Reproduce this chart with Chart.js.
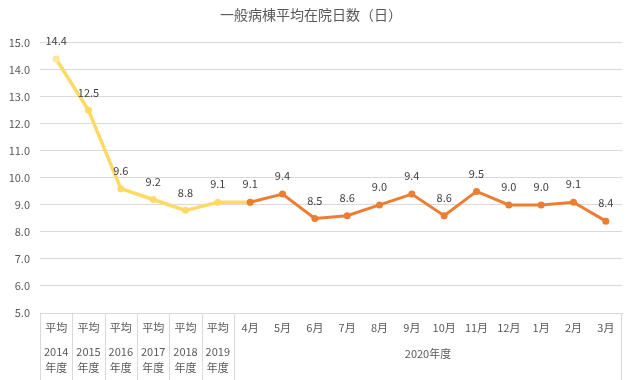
<!DOCTYPE html>
<html><head><meta charset="utf-8">
<script src="https://cdn.jsdelivr.net/npm/chart.js@4"></script>
<style>html,body{margin:0;padding:0;background:#fff}#wrap{width:634px;height:380px}</style>
</head><body><div id="wrap"><canvas id="c" width="634" height="380"></canvas></div>
<script>
const titleText = '一般病棟平均在院日数（日）';
const topLabels = ['平均','平均','平均','平均','平均','平均','4月','5月','6月','7月','8月','9月','10月','11月','12月','1月','2月','3月'];
const yearLabels = ['2014','2015','2016','2017','2018','2019'];
const groupLabel = '2020年度';
const yearSuffix = '年度';
const averageValues = [14.4,12.5,9.6,9.2,8.8,9.1,9.1,null,null,null,null,null,null,null,null,null,null,null];
const monthlyValues = [null,null,null,null,null,null,9.1,9.4,8.5,8.6,9.0,9.4,8.6,9.5,9.0,9.0,9.1,8.4];
const yTicks = [5,6,7,8,9,10,11,12,13,14,15];

const FONT = '"Noto Sans CJK JP","Noto Sans",sans-serif';
const TXT = '#595959';

const extras = {
  id:'extras',
  afterDatasetsDraw(chart){
    const ctx = chart.ctx, x = chart.scales.x, area = chart.chartArea;
    ctx.save();
    ctx.font = '11px ' + FONT;
    ctx.fillStyle = '#404040';
    ctx.textAlign = 'center';
    ctx.textBaseline = 'middle';
    const shown = {};
    chart.data.datasets.forEach((ds, di) => {
      const meta = chart.getDatasetMeta(di);
      ds.data.forEach((v, i) => {
        if (v == null || shown[i]) return;
        shown[i] = true;
        const p = meta.data[i];
        ctx.fillText(v.toFixed(1), p.x, p.y - 18);
      });
    });
    ctx.strokeStyle = '#d9d9d9';
    ctx.lineWidth = 1;
    const w = (x.getPixelForValue(1) - x.getPixelForValue(0));
    ctx.beginPath();
    for (let i = 0; i <= yearLabels.length; i++) {
      const px = Math.round(x.getPixelForValue(i) - w/2) + 0.5;
      ctx.moveTo(px, area.bottom); ctx.lineTo(px, 380);
    }
    const rx = Math.round(area.right) - 0.5;
    ctx.moveTo(rx, area.bottom); ctx.lineTo(rx, 380);
    ctx.stroke();
    ctx.fillStyle = TXT;
    yearLabels.forEach((y, i) => {
      const px = x.getPixelForValue(i);
      ctx.fillText(y, px, 352);
      ctx.fillText(yearSuffix, px, 368);
    });
    const g0 = x.getPixelForValue(yearLabels.length), g1 = x.getPixelForValue(topLabels.length - 1);
    ctx.fillText(groupLabel, (g0 + g1) / 2, 354);
    ctx.restore();
  }
};

new Chart(document.getElementById('c'), {
  type:'line',
  data:{
    labels: topLabels,
    datasets:[
      {data: monthlyValues, borderColor:'#ED7D31', backgroundColor:'#ED7D31', borderWidth:3, pointRadius:3.5, pointBorderWidth:0, spanGaps:false, order:1},
      {data: averageValues, borderColor:'#FFD966', backgroundColor:'#FFD966', borderWidth:3.5, pointRadius:3.5, pointBorderWidth:0, spanGaps:false, order:2,
       pointBackgroundColor: averageValues.map((v,i)=> i===0 ? '#FFE699' : '#FFD966')}
    ]
  },
  options:{
    responsive:false, animation:false,
    layout:{padding:{top:0,right:12,bottom:0,left:0}},
    plugins:{
      legend:{display:false}, tooltip:{enabled:false},
      title:{display:true, text:titleText, color:TXT, font:{family:FONT, size:14, weight:'normal'}, padding:{top:6,bottom:20}}
    },
    scales:{
      x:{
        offset:true,
        grid:{display:false, drawTicks:false},
        border:{display:true, color:'#d9d9d9'},
        ticks:{color:TXT, font:{family:FONT, size:11}, padding:8, maxRotation:0, autoSkip:false},
        afterFit(s){ s.height = 67; }
      },
      y:{
        min:5, max:15,
        afterBuildTicks(s){ s.ticks = yTicks.map(v=>({value:v})); },
        grid:{color:'#d9d9d9', drawTicks:false},
        border:{display:false},
        ticks:{color:TXT, font:{family:FONT, size:11}, padding:10, callback:v=>Number(v).toFixed(1)},
        afterFit(s){ s.width = 40; }
      }
    }
  },
  plugins:[extras]
});
</script></body></html>
